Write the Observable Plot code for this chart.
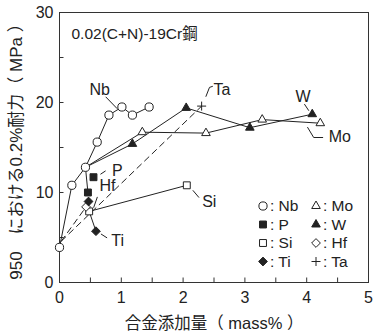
<!DOCTYPE html>
<html><head><meta charset="utf-8">
<script src="https://cdn.jsdelivr.net/npm/d3@7"></script>
<script src="https://cdn.jsdelivr.net/npm/@observablehq/plot@0.6"></script>
<style>
html,body{margin:0;padding:0;background:#fff;}
#wrap{position:relative;width:374px;height:334px;}
#wrap svg{position:absolute;left:0;top:0;}
</style></head><body><div id="wrap"></div>
<script>
const FONT = '"Liberation Sans", "Noto Sans CJK JP", sans-serif';
const INK = "#222";

// texts
const titleText = "0.02(C+N)-19Cr鋼";
const xLabel = "合金添加量（ mass% ）";
const yLabel = "950　における0.2%耐力（ MPa ）";

// ticks
const xTicks = [0, 1, 2, 3, 4, 5];
const xMinor = [0.5, 1, 1.5, 2, 2.5, 3, 3.5, 4, 4.5];
const yTicks = [0, 10, 20, 30];
const yMinor = [5, 10, 15, 20, 25];

// series (mass%, MPa)
const nbX = [0, 0.2, 0.42, 0.61, 0.80, 1.01, 1.18, 1.45];
const nbY = [3.9, 10.8, 12.8, 15.6, 18.6, 19.5, 18.6, 19.5];
const moX = [1.34, 2.37, 3.28, 4.22];
const moY = [16.7, 16.6, 18.1, 17.7];
const wX = [1.18, 2.05, 3.08, 4.09];
const wY = [15.4, 19.4, 17.2, 18.7];
const pX = [0.46, 0.55];
const pY = [10.0, 11.7];
const siX = [0.48, 2.06];
const siY = [7.9, 10.8];
const hfX = [0.43];
const hfY = [8.4];
const tiX = [0.47, 0.59];
const tiY = [9.0, 5.7];
const taX = [2.30];
const taY = [19.6];
const dashBaseX = 0.03, dashBaseY = 4.6;

// annotations
const annoText = ["Nb", "Ta", "W", "Mo", "P", "Hf", "Si", "Ti"];
const annoX = [0.486, 2.49, 3.82, 4.355, 0.849, 0.648, 2.308, 0.838];
const annoY = [21.44, 21.43, 20.6, 16.15, 12.44, 10.69, 8.91, 4.64];
const leaderId = ["Nb","Nb","Ta","Ta","Ta","W","W","Mo","Mo","Mo","P","P","Hf","Hf","Si","Si","Ti","Ti"];
const leaderX = [0.752,0.930, 2.475,2.427,2.370, 3.966,4.031, 4.015,4.113,4.259, 0.668,0.741, 0.611,0.554, 2.162,2.253, 0.676,0.765];
const leaderY = [20.60,19.34, 21.79,21.68,20.68, 19.79,19.12, 17.23,16.11,16.11, 12.05,12.38, 9.47,8.35, 10.21,9.47, 5.37,4.98];

// legend
const legendNames = ["Nb", "Mo", "P", "W", "Si", "Hf", "Ti", "Ta"];
const legendSym = ["circle", "triangle", "square", "triangle", "square", "diamond", "diamond", "plus"];
const legendFill = [false, false, true, true, false, false, true, false];

// symbols
const diamond = {draw(ctx, size){ const h = Math.sqrt(size / 2); ctx.moveTo(0,-h); ctx.lineTo(h,0); ctx.lineTo(0,h); ctx.lineTo(-h,0); ctx.closePath(); }};
const plus = {draw(ctx, size){ const h = Math.sqrt(size / Math.PI); ctx.moveTo(-h,0); ctx.lineTo(h,0); ctx.moveTo(0,-h); ctx.lineTo(0,h); }};
const symMap = {circle: d3.symbolCircle, triangle: d3.symbolTriangle, square: d3.symbolSquare, diamond, plus};
const symR = {circle: 4.1, triangle: 3.2, square: 3.9, diamond: 3.5, plus: 4.5};

const pts = (xs, ys, name) => xs.map((x, i) => ({x, y: ys[i], s: name}));
const solidLines = [
  ...pts(nbX, nbY, "Nb"),
  ...pts([nbX[2], ...moX], [nbY[2], ...moY], "Mo"),
  ...pts([nbX[2], ...wX], [nbY[2], ...wY], "W"),
  ...pts([nbX[2], pX[0]], [nbY[2], pY[0]], "P"),
  ...pts(siX, siY, "Si"),
  ...pts([siX[0], tiX[1]], [siY[0], tiY[1]], "Ti")
];
const dashLines = [
  ...pts([dashBaseX, hfX[0]], [dashBaseY, hfY[0]], "Hf"),
  ...pts([dashBaseX, taX[0]], [dashBaseY, taY[0]], "Ta")
];
const leaders = leaderX.map((x, i) => ({x, y: leaderY[i], s: leaderId[i]}));
const annos = annoText.map((t, i) => ({t, x: annoX[i], y: annoY[i]}));

const dotMark = (xs, ys, sym, filled) => Plot.dot(pts(xs, ys, ""), {
  x: "x", y: "y", symbol: symMap[sym], r: symR[sym],
  fill: sym === "plus" ? "none" : (filled ? INK : "white"), stroke: INK, strokeWidth: 1
});

const pxY = 30 / 270; // data units per pixel in y
const pxX = 5 / 309;

const chart = Plot.plot({
  width: 374, height: 334,
  marginLeft: 59, marginRight: 6, marginTop: 12, marginBottom: 52,
  x: {domain: [0, 5]},
  y: {domain: [0, 30]},
  style: {fontFamily: FONT, fontSize: "16px", color: INK, background: "white"},
  marks: [
    Plot.frame({stroke: "#333", strokeWidth: 1}),
    Plot.ruleX(xMinor, {x: d => d, y1: 0, y2: 4.5 * pxY, stroke: "#333"}),
    Plot.ruleY(yMinor, {y: d => d, x1: 0, x2: 4.5 * pxX, stroke: "#333"}),
    Plot.axisX({ticks: xTicks, tickFormat: d3.format("d"), tickSize: 0, tickPadding: 9, fontSize: 16, label: null}),
    Plot.axisY({ticks: yTicks, tickFormat: d3.format("d"), tickSize: 0, tickPadding: 6, fontSize: 16, label: null}),
    Plot.text([xLabel], {frameAnchor: "bottom", dy: 41, textAnchor: "middle", lineAnchor: "middle", fontSize: 16.5, fill: INK}),
    Plot.text([yLabel], {frameAnchor: "left", rotate: -90, dx: -43, dy: 0, textAnchor: "middle", lineAnchor: "middle", fontSize: 17, fill: INK}),
    Plot.text([titleText], {frameAnchor: "top-left", dx: 12, dy: 22, lineAnchor: "middle", textAnchor: "start", fontSize: 15.5, fill: INK}),
    Plot.line(dashLines, {x: "x", y: "y", z: "s", stroke: INK, strokeWidth: 1, strokeDasharray: "6,4.5"}),
    Plot.line(solidLines, {x: "x", y: "y", z: "s", stroke: INK, strokeWidth: 1}),
    Plot.line(leaders, {x: "x", y: "y", z: "s", stroke: INK, strokeWidth: 1}),
    Plot.text(annos, {x: "x", y: "y", text: "t", textAnchor: "start", lineAnchor: "middle", fontSize: 16, fill: INK}),
    dotMark(nbX, nbY, "circle", false),
    dotMark(moX, moY, "triangle", false),
    dotMark(wX, wY, "triangle", true),
    dotMark(pX, pY, "square", true),
    dotMark(siX, siY, "square", false),
    dotMark(hfX, hfY, "diamond", false),
    dotMark(tiX, tiY, "diamond", true),
    dotMark(taX, taY, "plus", false)
  ]
});
const wrap = document.getElementById("wrap");
wrap.appendChild(chart);

// legend overlay
const lg = d3.select(wrap).append("svg").attr("width", 374).attr("height", 334)
  .style("pointer-events", "none");
const colX = [263, 316], rowY = [206, 224.5, 243, 261.5];
legendNames.forEach((name, i) => {
  const cx = colX[i % 2], cy = rowY[Math.floor(i / 2)];
  const sym = legendSym[i];
  const r = symR[sym];
  lg.append("path")
    .attr("d", d3.symbol(symMap[sym], Math.PI * r * r)())
    .attr("transform", `translate(${cx},${cy})`)
    .attr("fill", sym === "plus" ? "none" : (legendFill[i] ? INK : "white"))
    .attr("stroke", INK).attr("stroke-width", 1);
  lg.append("text")
    .attr("x", cx + 7).attr("y", cy).attr("dy", "0.35em")
    .attr("font-family", FONT).attr("font-size", 15.5).attr("fill", INK)
    .text(": " + name);
});
</script></body></html>
